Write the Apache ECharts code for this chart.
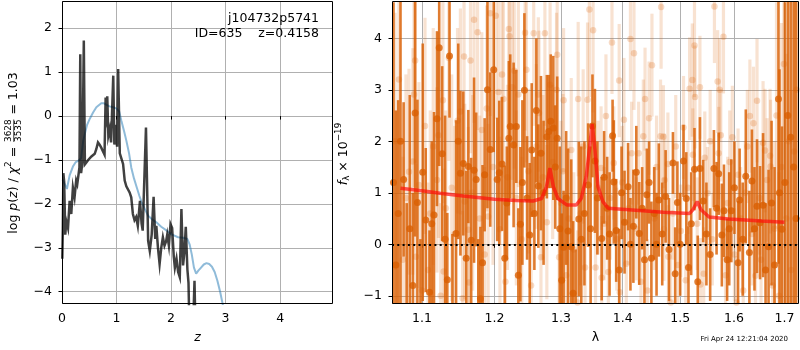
<!DOCTYPE html>
<html><head><meta charset="utf-8">
<script src="https://cdn.jsdelivr.net/npm/echarts@6/dist/echarts.min.js"></script>
<style>html,body{margin:0;padding:0;background:#fff}#c{width:800px;height:350px}</style>
</head><body><div id="c"></div><script>
const FONT = 'DejaVu Sans';

// ---------------- left panel data ----------------
const zTicks = [0, 1, 2, 3, 4];
const pTicks = [-4, -3, -2, -1, 0, 1, 2];
const blueZ = [0.01, 0.05, 0.09, 0.14, 0.2, 0.25, 0.3, 0.35, 0.39, 0.42, 0.46, 0.51, 0.57, 0.63, 0.68, 0.72, 0.77, 0.81, 0.87, 0.94, 1.0, 1.05, 1.09, 1.14, 1.18, 1.23, 1.27, 1.32, 1.37, 1.42, 1.46, 1.52, 1.58, 1.65, 1.73, 1.82, 1.92, 2.02, 2.13, 2.22, 2.30, 2.34, 2.38, 2.42, 2.46, 2.50, 2.55, 2.60, 2.65, 2.70, 2.75, 2.80, 2.85, 2.90, 2.95, 3.0];
const blueP = [-1.45, -1.55, -1.66, -1.35, -1.15, -1.05, -1.02, -0.96, -0.56, -0.4, -0.2, -0.06, 0.08, 0.2, 0.25, 0.29, 0.29, 0.26, 0.22, 0.2, 0.17, 0.1, -0.11, -0.35, -0.56, -0.85, -1.17, -1.42, -1.62, -1.82, -1.96, -2.12, -2.27, -2.35, -2.42, -2.52, -2.61, -2.7, -2.76, -2.77, -2.8, -2.92, -3.15, -3.45, -3.59, -3.52, -3.45, -3.38, -3.35, -3.37, -3.43, -3.55, -3.75, -4.0, -4.3, -4.7];
const pzZ = [0.005, 0.015, 0.025, 0.04, 0.06, 0.08, 0.11, 0.14, 0.17, 0.2, 0.23, 0.26, 0.28, 0.32, 0.335, 0.35, 0.375, 0.40, 0.42, 0.45, 0.48, 0.51, 0.54, 0.57, 0.60, 0.63, 0.66, 0.69, 0.72, 0.75, 0.78, 0.80, 0.81, 0.82, 0.83, 0.85, 0.875, 0.90, 0.94, 0.96, 0.99, 1.01, 1.03, 1.06, 1.09, 1.12, 1.15, 1.18, 1.24, 1.27, 1.30, 1.33, 1.36, 1.39, 1.43, 1.46, 1.48, 1.54, 1.58, 1.61, 1.645, 1.68, 1.71, 1.73, 1.76, 1.79, 1.82, 1.85, 1.88, 1.91, 1.93, 1.96, 1.99, 2.02, 2.05, 2.07, 2.10, 2.13, 2.16, 2.19, 2.22, 2.245, 2.27, 2.30, 2.32, 2.34, 2.40, 2.43, 2.45];
const pzP = [-3.25, -2.6, -1.3, -1.5, -2.7, -2.4, -2.55, -1.93, -2.23, -1.63, -1.85, -1.47, -1.55, -1.17, 1.41, -1.3, -1.05, 1.72, -1.1, -1.05, -1.0, -0.98, -0.92, -0.95, -0.86, -0.75, -0.6, -0.65, -0.72, -0.8, -0.88, 0.42, -0.1, -0.15, 0.45, -0.45, -0.3, -0.6, 0.92, -0.65, -0.2, -0.7, 1.07, -0.85, -0.82, -1.09, -1.47, -1.6, -1.74, -1.85, -2.23, -2.37, -2.3, -2.5, -1.93, -2.45, -2.61, -0.26, -2.84, -3.07, -2.7, -1.84, -2.8, -2.5, -3.0, -3.37, -3.0, -2.76, -2.95, -2.85, -2.7, -2.95, -2.46, -2.55, -3.2, -3.45, -3.25, -3.55, -3.67, -2.12, -3.4, -3.1, -2.52, -3.5, -3.8, -5.0, -5.0, -3.75, -5.0];

// ---------------- right panel data ----------------
const lamTicks = [1.1, 1.2, 1.3, 1.4, 1.5, 1.6, 1.7];
const fTicks = [-1, 0, 1, 2, 3, 4];
const darkLam = [1.063, 1.066, 1.069, 1.072, 1.076, 1.080, 1.084, 1.088, 1.091, 1.094, 1.098, 1.101, 1.105, 1.110, 1.113, 1.116, 1.120, 1.123, 1.127, 1.131, 1.134, 1.137, 1.141, 1.146, 1.149, 1.152, 1.156, 1.160, 1.163, 1.167, 1.171, 1.174, 1.177, 1.180, 1.183, 1.186, 1.190, 1.194, 1.199, 1.204, 1.207, 1.211, 1.215, 1.218, 1.221, 1.223, 1.228, 1.232, 1.235, 1.238, 1.241, 1.244, 1.248, 1.252, 1.255, 1.259, 1.262, 1.265, 1.269, 1.273, 1.278, 1.281, 1.284, 1.288, 1.291, 1.294, 1.298, 1.301, 1.304, 1.308, 1.311, 1.316, 1.319, 1.323, 1.328, 1.332, 1.337, 1.343, 1.347, 1.350, 1.354, 1.358, 1.365, 1.369, 1.374, 1.378, 1.383, 1.385, 1.389, 1.394, 1.398, 1.403, 1.409, 1.413, 1.418, 1.423, 1.428, 1.433, 1.437, 1.441, 1.445, 1.449, 1.454, 1.458, 1.462, 1.468, 1.474, 1.480, 1.487, 1.491, 1.495, 1.500, 1.506, 1.511, 1.515, 1.520, 1.526, 1.532, 1.536, 1.542, 1.548, 1.555, 1.562, 1.567, 1.571, 1.577, 1.581, 1.587, 1.591, 1.595, 1.601, 1.608, 1.611, 1.617, 1.623, 1.630, 1.635, 1.640, 1.645, 1.651, 1.657, 1.662, 1.668, 1.674, 1.680, 1.688, 1.690, 1.695, 1.701, 1.707, 1.713, 1.719, 1.724];
const darkF = [1.2, -0.4, 0.6, 2.0, 1.26, -1.4, 0.3, -0.8, 2.55, 0.81, -1.5, 1.4, 0.47, -0.93, 0.40, 0.57, 2.44, 3.82, 1.76, 0.1, -0.69, 3.66, -1.3, 0.21, 2.0, 1.38, 1.57, -0.27, 1.51, 0.08, 1.44, 1.26, -1.4, -1.06, -0.36, 1.35, 3.0, 1.84, 3.39, 1.26, 1.39, 1.56, -0.27, 0.8, 2.06, 2.29, 1.93, 2.29, -0.6, 0.39, 1.2, 2.99, 0.9, 0.18, 1.83, 0.6, 2.6, 1.13, 1.77, 1.0, 2.09, 2.19, 2.39, 2.26, 1.5, 2.06, 0.3, -0.7, -0.06, 0.9, 0.26, -0.05, -0.95, -1.3, 0.49, 0.1, 0.6, 1.15, 0.3, 2.3, 1.62, 0.9, 0.11, 1.3, 0.7, 0.2, 2.11, 1.21, 0.27, -0.5, 1.0, 0.43, 1.12, 0.0, 0.35, 1.4, 0.21, 0.7, -0.3, 0.96, 1.2, -0.27, 0.6, 0.0, 0.86, 0.2, 0.93, -0.1, 1.58, -0.57, 0.81, 0.0, 1.62, 0.89, -0.45, 0.4, 1.46, -0.73, 1.47, 0.84, 0.2, -0.20, 1.47, 0.70, 1.37, 0.18, 0.65, -0.30, 0.3, 0.65, 1.1, -0.36, 0.86, 0.1, 1.32, -0.16, 1.23, 0.3, 0.74, 0.42, 0.76, -0.5, -0.05, 0.8, -0.4, 2.82, 1.0, 0.29, 1.2, 2.5, 2.08, 1.5, 0.5];
const darkErr = [3.5, 3.0, 2.2, 3.2, 1.5, 2.2, 2.6, 1.8, 2.4, 2.0, 1.6, 2.5, 1.4, 1.2, 1.6, 2.0, 1.7, 2.3, 1.7, 2.4, 1.3, 1.2, 1.5, 2.2, 1.9, 1.6, 1.4, 1.7, 1.1, 1.6, 1.8, 1.3, 1.5, 1.4, 1.9, 1.1, 2.3, 1.5, 1.6, 1.2, 1.4, 1.3, 1.8, 1.1, 1.5, 1.4, 1.6, 1.1, 1.3, 1.5, 1.6, 1.5, 1.2, 1.4, 1.3, 1.1, 1.4, 1.2, 1.5, 1.4, 1.2, 1.1, 1.3, 1.4, 1.2, 1.2, 1.6, 1.3, 1.1, 1.3, 1.6, 1.7, 1.4, 1.2, 1.5, 1.8, 1.4, 1.2, 1.6, 1.0, 1.4, 1.1, 1.2, 0.9, 1.0, 1.2, 0.7, 1.2, 1.0, 0.8, 0.9, 1.0, 0.85, 0.9, 1.1, 0.9, 1.0, 0.8, 1.0, 0.9, 0.8, 1.1, 0.9, 1.0, 1.1, 1.0, 0.9, 1.0, 0.6, 0.9, 0.8, 1.0, 0.7, 0.9, 0.8, 1.0, 0.8, 0.9, 1.0, 0.8, 1.0, 0.9, 0.75, 0.9, 0.8, 1.0, 0.9, 0.8, 1.1, 1.0, 0.9, 1.2, 1.0, 1.1, 1.3, 1.2, 1.0, 1.2, 1.3, 1.1, 1.4, 1.3, 1.5, 1.6, 1.9, 3.2, 2.4, 2.0, 3.5, 4.5, 3.8, 4.5, 5.0];
const lightLam = [1.065, 1.070, 1.075, 1.079, 1.083, 1.088, 1.0895, 1.091, 1.092, 1.096, 1.100, 1.104, 1.108, 1.111, 1.115, 1.120, 1.122, 1.125, 1.128, 1.129, 1.132, 1.136, 1.140, 1.144, 1.148, 1.152, 1.155, 1.157, 1.158, 1.163, 1.164, 1.166, 1.169, 1.171, 1.176, 1.179, 1.182, 1.186, 1.189, 1.191, 1.194, 1.198, 1.202, 1.206, 1.208, 1.211, 1.213, 1.216, 1.219, 1.221, 1.222, 1.226, 1.229, 1.232, 1.235, 1.240, 1.245, 1.247, 1.250, 1.254, 1.258, 1.262, 1.265, 1.266, 1.269, 1.272, 1.275, 1.278, 1.283, 1.287, 1.293, 1.294, 1.297, 1.300, 1.303, 1.304, 1.308, 1.312, 1.316, 1.320, 1.326, 1.327, 1.331, 1.335, 1.338, 1.342, 1.345, 1.351, 1.355, 1.359, 1.364, 1.365, 1.369, 1.372, 1.376, 1.379, 1.382, 1.385, 1.390, 1.394, 1.395, 1.399, 1.402, 1.406, 1.410, 1.413, 1.415, 1.419, 1.423, 1.427, 1.431, 1.435, 1.438, 1.442, 1.445, 1.450, 1.454, 1.458, 1.465, 1.466, 1.470, 1.471, 1.472, 1.478, 1.479, 1.483, 1.487, 1.492, 1.496, 1.501, 1.506, 1.510, 1.514, 1.517, 1.522, 1.523, 1.526, 1.527, 1.531, 1.536, 1.537, 1.543, 1.545, 1.550, 1.555, 1.559, 1.563, 1.569, 1.571, 1.573, 1.575, 1.580, 1.584, 1.588, 1.592, 1.597, 1.601, 1.605, 1.608, 1.613, 1.618, 1.622, 1.626, 1.631, 1.635, 1.638, 1.642, 1.645, 1.650, 1.653, 1.657, 1.661, 1.665, 1.671, 1.672, 1.676, 1.680, 1.684, 1.689, 1.694, 1.699, 1.704, 1.709, 1.714, 1.720, 1.725];
const lightF = [2.0, 3.2, -0.3, 0.9, 1.41, 1.61, 2.91, 3.57, -0.24, 1.15, -0.9, 2.3, -0.5, 0.6, 1.9, 1.25, 2.12, -1.0, 2.8, -0.53, 0.70, 3.62, 1.1, 0.2, 2.4, 2.58, -1.05, 3.65, 0.83, 0.28, -0.74, 3.57, 1.0, 4.36, 4.12, 0.5, 2.22, -0.2, 2.64, 0.54, 4.49, 1.5, 4.44, 2.96, 0.29, 3.30, 2.82, -0.73, 1.3, 4.18, 4.04, 3.05, 3.37, 0.9, 2.91, 0.1, 4.11, 3.39, 1.42, -0.8, 4.10, 1.9, 2.91, 2.55, -0.25, 1.3, 4.10, 0.43, 3.10, 1.6, 3.00, 3.68, -0.25, 0.8, 1.42, 2.80, -0.6, 0.5, 1.83, -0.1, -1.13, 2.82, 0.6, 1.9, -0.45, 2.81, 4.56, 4.16, -0.45, 1.1, 1.48, -0.65, 0.4, 2.49, -0.54, 0.9, 3.92, 1.58, 0.1, 3.18, -0.93, 1.2, 2.42, -0.38, 0.7, 3.99, 1.77, 3.71, 0.3, 1.77, -0.73, 2.10, 2.82, -0.9, 2.45, 3.48, 0.5, 1.5, 2.10, 4.61, 2.09, 0.29, 1.25, 1.56, -0.24, -1.13, 0.6, 1.9, -0.4, 0.26, 2.27, -0.7, 1.1, 3.02, 3.19, 1.74, 3.86, 2.86, 0.4, 3.05, -0.78, -0.57, 1.68, 0.99, 2.0, 0.1, 4.62, 3.16, 1.77, 3.00, 2.12, 4.03, -0.6, 0.8, 1.6, 2.08, -0.2, -1.13, 1.35, 0.5, -0.9, 1.0, 1.9, 2.49, 0.2, 2.35, -0.61, 2.79, 0.9, -0.3, 1.97, 1.82, 1.25, 1.72, 1.51, -0.8, 0.3, 2.5, -1.0, 1.5, 3.5, 0.5, 2.0, -0.5, 1.8, 3.0];
const lightErr = [2.5, 2.2, 2.0, 2.4, 2.0, 2.2, 1.8, 2.0, 1.8, 2.0, 1.9, 2.1, 1.7, 2.0, 2.3, 1.8, 2.0, 1.8, 2.0, 2.0, 1.9, 2.0, 2.2, 2.1, 1.8, 2.0, 1.7, 2.1, 1.9, 2.0, 1.8, 1.8, 1.9, 2.0, 1.9, 2.0, 1.9, 1.7, 2.0, 1.8, 2.0, 1.9, 2.0, 1.8, 1.8, 2.0, 1.9, 1.6, 1.8, 1.9, 1.7, 1.8, 1.9, 1.7, 1.8, 1.6, 1.9, 1.8, 1.6, 1.5, 1.8, 1.6, 1.5, 1.6, 1.5, 1.6, 1.8, 1.5, 1.6, 1.5, 1.5, 1.6, 1.5, 1.6, 1.5, 1.4, 1.4, 1.5, 1.4, 1.5, 1.4, 1.5, 1.4, 1.5, 1.4, 1.5, 1.7, 1.6, 1.4, 1.3, 1.2, 1.2, 1.1, 1.2, 1.1, 1.2, 1.0, 1.1, 1.0, 1.1, 1.1, 1.1, 1.2, 1.0, 1.1, 1.0, 1.0, 1.1, 1.0, 1.0, 1.0, 1.1, 1.0, 1.0, 1.1, 1.0, 1.0, 1.0, 1.1, 1.2, 1.0, 1.0, 0.9, 1.0, 1.0, 1.0, 0.9, 1.0, 0.9, 0.9, 1.0, 0.9, 0.9, 1.0, 1.1, 0.9, 1.0, 1.0, 0.9, 1.0, 0.9, 0.9, 0.9, 0.9, 1.0, 0.9, 1.1, 1.0, 0.9, 1.0, 0.9, 1.1, 0.9, 0.9, 1.0, 1.0, 0.9, 0.9, 0.9, 1.0, 1.0, 1.0, 1.1, 1.1, 1.0, 1.1, 1.0, 1.2, 1.1, 1.1, 1.2, 1.2, 1.2, 1.3, 1.3, 1.5, 1.7, 2.2, 2.4, 2.8, 3.0, 3.2, 3.5, 3.5, 4.0, 4.0];
const modelLam = [1.072, 1.10, 1.124, 1.156, 1.20, 1.232, 1.257, 1.270, 1.2775, 1.2827, 1.288, 1.295, 1.309, 1.324, 1.332, 1.340, 1.3456, 1.3494, 1.354, 1.359, 1.367, 1.3755, 1.41, 1.47, 1.517, 1.523, 1.531, 1.538, 1.553, 1.59, 1.654, 1.70];
const modelF = [1.09, 1.04, 0.99, 0.94, 0.875, 0.85, 0.84, 0.89, 1.12, 1.48, 1.12, 0.89, 0.765, 0.765, 0.89, 1.32, 1.90, 2.34, 1.84, 1.12, 0.83, 0.70, 0.67, 0.62, 0.60, 0.67, 0.83, 0.67, 0.53, 0.49, 0.45, 0.43];
const lamMin = 1.0611, lamMax = 1.7301;

// ---------------- helpers ----------------
const L = v => Math.log10(v);
const minus = v => (v < 0 ? '\u2212' + Math.abs(v) : String(v));
const mctx = document.createElement('canvas').getContext('2d');
function tw(t, size, italic) {
  mctx.font = (italic ? 'italic ' : '') + size + 'px "' + FONT + '"';
  return mctx.measureText(t).width;
}
function rowGraphic(parts, x, y) {
  let total = 0;
  parts.forEach(p => {
    if (p.frac) p.w = Math.max(tw(p.frac[0], p.s), tw(p.frac[1], p.s)) + 2;
    else p.w = tw(p.t, p.s, p.i);
    total += p.w;
  });
  let cur = -total / 2;
  const children = [];
  parts.forEach(p => {
    if (p.frac) {
      const cx = cur + p.w / 2;
      children.push({type: 'text', x: cx, y: -4.6, style: {text: p.frac[0], fontSize: p.s, fontFamily: FONT, fill: '#000', textAlign: 'center', textVerticalAlign: 'middle'}});
      children.push({type: 'text', x: cx, y: 5.0, style: {text: p.frac[1], fontSize: p.s, fontFamily: FONT, fill: '#000', textAlign: 'center', textVerticalAlign: 'middle'}});
      children.push({type: 'line', shape: {x1: cur + 1, y1: 0.2, x2: cur + p.w - 1, y2: 0.2}, style: {stroke: '#000', lineWidth: 0.7}});
    } else {
      children.push({type: 'text', x: cur, y: p.dy || 0, style: {text: p.t, fontSize: p.s, fontStyle: p.i ? 'italic' : 'normal', fontFamily: FONT, fill: '#000', textAlign: 'left', textVerticalAlign: 'middle'}});
    }
    cur += p.w;
  });
  return {type: 'group', x: x, y: y, rotation: Math.PI / 2, children: children};
}
function errRender(color, w) {
  return function (params, api) {
    const x = api.value(0), y = api.value(1), e = api.value(2);
    const p1 = api.coord([x, y + e]), p2 = api.coord([x, y - e]);
    const cs = params.coordSys;
    const r = echarts.graphic.clipRectByRect(
      {x: p1[0] - w / 2, y: p1[1], width: w, height: p2[1] - p1[1]},
      {x: cs.x, y: cs.y, width: cs.width, height: cs.height});
    if (!r) return null;
    return {type: 'rect', shape: r, style: {fill: color}};
  };
}

const GL = {left: 62, top: 1, width: 271, height: 303};
const GR = {left: 392, top: 1, width: 407, height: 303};
const tick = {show: true, length: 3.5, lineStyle: {color: '#000', width: 1}};
const lab = {color: '#000', fontSize: 12.5, fontFamily: FONT};
const split = {show: true, lineStyle: {color: '#b0b0b0', width: 1}};
const nameStyle = {color: '#000', fontSize: 12.5, fontFamily: FONT};

const DARK = '#d95f02';
const option = {
  animation: false,
  backgroundColor: '#fff',
  grid: [
    Object.assign({outerBoundsMode: 'none', containLabel: false, show: false}, GL),
    Object.assign({outerBoundsMode: 'none', containLabel: false, show: false}, GR)
  ],
  xAxis: [
    {gridIndex: 0, type: 'value', min: 0, max: 4.97, axisLine: {show: false},
      axisTick: Object.assign({customValues: zTicks}, tick),
      axisLabel: Object.assign({customValues: zTicks, margin: 8, formatter: v => minus(v)}, lab),
      splitLine: split, name: 'z', nameLocation: 'middle', nameGap: 27,
      nameTextStyle: Object.assign({fontStyle: 'italic'}, nameStyle)},
    {gridIndex: 1, type: 'value', min: L(lamMin), max: L(lamMax), axisLine: {show: false},
      axisTick: Object.assign({customValues: lamTicks.map(L)}, tick),
      axisLabel: Object.assign({customValues: lamTicks.map(L), margin: 8, formatter: v => Math.pow(10, v).toFixed(1)}, lab),
      splitLine: split, name: 'λ', nameLocation: 'middle', nameGap: 27, nameTextStyle: nameStyle}
  ],
  yAxis: [
    {gridIndex: 0, type: 'value', min: -4.28, max: 2.62, axisLine: {show: false},
      axisTick: Object.assign({customValues: pTicks}, tick),
      axisLabel: Object.assign({customValues: pTicks, margin: 10, formatter: v => minus(v)}, lab),
      splitLine: split},
    {gridIndex: 1, type: 'value', min: -1.16, max: 4.726, axisLine: {show: false},
      axisTick: Object.assign({customValues: fTicks}, tick),
      axisLabel: Object.assign({customValues: fTicks, margin: 10, formatter: v => minus(v)}, lab),
      splitLine: split}
  ],
  series: [
    {type: 'line', xAxisIndex: 0, yAxisIndex: 0, showSymbol: false, z: 2,
      data: blueZ.map((z, i) => [z, blueP[i]]),
      lineStyle: {color: 'rgba(31,119,180,0.5)', width: 2}},
    {type: 'line', xAxisIndex: 0, yAxisIndex: 0, showSymbol: false, z: 3,
      data: pzZ.map((z, i) => [z, pzP[i]]),
      lineStyle: {color: 'rgba(0,0,0,0.75)', width: 2.5, join: 'miter'}},
    {type: 'custom', xAxisIndex: 1, yAxisIndex: 1, z: 2, renderItem: errRender('rgba(217,95,2,0.18)', 3.2),
      encode: {x: 0, y: 1}, data: lightLam.map((l, i) => [L(l), lightF[i], lightErr[i]])},
    {type: 'scatter', xAxisIndex: 1, yAxisIndex: 1, z: 2, symbolSize: 6.5,
      itemStyle: {color: 'rgba(217,95,2,0.28)'},
      data: lightLam.map((l, i) => [L(l), lightF[i]])},
    {type: 'custom', xAxisIndex: 1, yAxisIndex: 1, z: 3, renderItem: errRender('rgba(217,95,2,0.82)', 2.6),
      encode: {x: 0, y: 1}, data: darkLam.map((l, i) => [L(l), darkF[i], darkErr[i]])},
    {type: 'scatter', xAxisIndex: 1, yAxisIndex: 1, z: 3, symbolSize: 7,
      itemStyle: {color: DARK},
      data: darkLam.map((l, i) => [L(l), darkF[i]])},
    {type: 'line', xAxisIndex: 1, yAxisIndex: 1, showSymbol: false, z: 4,
      data: modelLam.map((l, i) => [L(l), modelF[i]]),
      lineStyle: {color: 'rgba(255,10,10,0.68)', width: 3.5},
      markLine: {silent: true, symbol: ['none', 'none'], animation: false, label: {show: false},
        lineStyle: {color: '#000', type: [2, 3.3], width: 2}, data: [{yAxis: 0}]}}
  ],
  graphic: [
    {type: 'rect', z: 100, shape: {x: GL.left + 0.5, y: GL.top + 0.5, width: GL.width - 1, height: GL.height - 1}, style: {fill: 'none', stroke: '#000', lineWidth: 1}},
    {type: 'rect', z: 100, shape: {x: GR.left + 0.5, y: GR.top + 0.5, width: GR.width - 1, height: GR.height - 1}, style: {fill: 'none', stroke: '#000', lineWidth: 1}},
    {type: 'text', z: 100, x: 319, y: 19, style: {text: 'j104732p5741', fontSize: 12.5, fontFamily: FONT, fill: '#000', textAlign: 'right', textVerticalAlign: 'middle'}},
    {type: 'text', z: 100, x: 319, y: 34, style: {text: 'ID=635    z=0.4158', fontSize: 12.5, fontFamily: FONT, fill: '#000', textAlign: 'right', textVerticalAlign: 'middle'}},
    {type: 'text', z: 100, x: 788, y: 339, style: {text: 'Fri Apr 24 12:21:04 2020', fontSize: 7, fontFamily: FONT, fill: '#000', textAlign: 'right', textVerticalAlign: 'middle'}},
    rowGraphic([
      {t: 'log ', s: 12.5}, {t: 'p', s: 12.5, i: true}, {t: '(', s: 12.5}, {t: 'z', s: 12.5, i: true},
      {t: ') / ', s: 12.5}, {t: 'χ', s: 12.5, i: true}, {t: '2', s: 8.8, dy: -4.5}, {t: ' = ', s: 12.5},
      {frac: ['3628', '3535'], s: 8.8}, {t: ' = 1.03', s: 12.5}
    ], 13.5, 153),
    rowGraphic([
      {t: 'f', s: 12.5, i: true}, {t: 'λ', s: 8.8, dy: 3}, {t: ' × 10', s: 12.5}, {t: '\u221219', s: 8.8, dy: -5}
    ], 344, 154)
  ]
};
const chart = echarts.init(document.getElementById('c'), null, {renderer: 'canvas'});
chart.setOption(option);
</script></body></html>
